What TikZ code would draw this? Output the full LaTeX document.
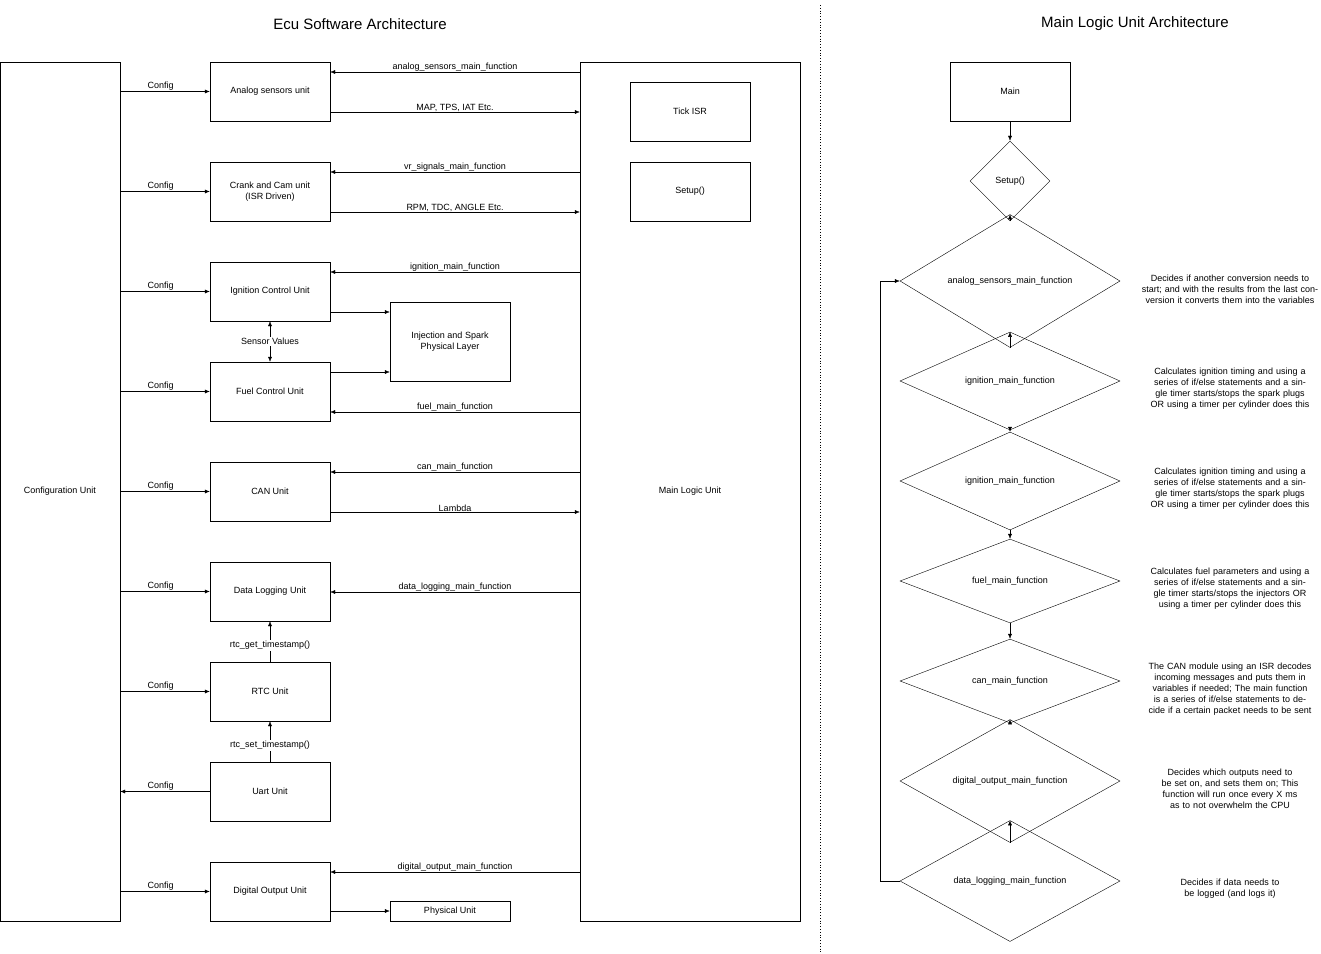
\documentclass[tikz,border=0pt]{standalone}
\usepackage{fontspec}
\setmainfont{Liberation Sans}
\usetikzlibrary{shapes.geometric,arrows.meta,positioning}

\begin{document}
\begin{tikzpicture}[
    x=1pt, y=-1pt,
    unit/.style={
        draw,
        rectangle,
        minimum width = 120pt,
        minimum height = 59pt,
        align = center,
        font = \fontsize{9}{11}\selectfont
    },
    flow/.style={
        draw,
        diamond,
        minimum width = 220pt,
        minimum height = 80pt,
        inner sep = 0pt,
        font = \fontsize{9}{11}\selectfont
    },
    lbl/.style={
        font = \fontsize{9}{11}\selectfont,
        inner sep = 1pt,
        fill = white
    },
    note/.style={
        text width = 180pt,
        align = center,
        font = \fontsize{9}{11}\selectfont
    },
    title/.style={
        font = \fontsize{15}{18}\selectfont
    },
    >={Latex[length=5pt,width=4pt]}
]
\useasboundingbox (0,0) rectangle (1321,953);

% titles and separator
\node[title] (t1) at (360,24) {Ecu Software Architecture};
\node[title] (t2) at (1135,24) {Main Logic Unit Architecture};
\draw[dotted, thick] (820,5) -- (820,953);

% left side blocks
\node[unit, minimum width=120pt, minimum height=859pt] (conf) at (60,491.5) {Configuration Unit};
\node[unit, minimum width=220pt, minimum height=859pt] (mlu) at (690,491.5) {Main Logic Unit};
\node[unit] (tick) at (690,111.5) {Tick ISR};
\node[unit] (setup) at (690,191.5) {Setup()};

\node[unit] (ana) at (270,91.5) {Analog sensors unit};
\node[unit] (crank) at (270,191.5) {Crank and Cam unit\\(ISR Driven)};
\node[unit] (ign) at (270,291.5) {Ignition Control Unit};
\node[unit] (fuel) at (270,391.5) {Fuel Control Unit};
\node[unit] (can) at (270,491.5) {CAN Unit};
\node[unit] (dlog) at (270,591.5) {Data Logging Unit};
\node[unit] (rtc) at (270,691.5) {RTC Unit};
\node[unit] (uart) at (270,791.5) {Uart Unit};
\node[unit] (dout) at (270,891.5) {Digital Output Unit};
\node[unit, minimum height=79pt] (inj) at (450,341.5) {Injection and Spark\\Physical Layer};
\node[unit, minimum height=20pt] (phys) at (450,911) {Physical Unit};

% config connections
\foreach \u in {ana,crank,ign,fuel,can,dlog,rtc,dout}
    \draw[->] (conf.east |- \u) -- node[lbl, above, fill=none, pos=0.45] {Config} (\u.west);
\draw[->] (uart.west) -- node[lbl, above, fill=none, pos=0.55] {Config} (conf.east |- uart);

% main logic unit to units
\foreach \u/\y/\t in {ana/72/analog\_sensors\_main\_function, crank/172/vr\_signals\_main\_function,
    ign/272/ignition\_main\_function, fuel/412/fuel\_main\_function, can/472/can\_main\_function,
    dlog/592/data\_logging\_main\_function, dout/872/digital\_output\_main\_function}
    \draw[->] (mlu.west |- 0,\y) -- node[lbl, above, fill=none, inner sep=0.5pt] {\t} (\u.east |- 0,\y);

% units to main logic unit
\foreach \u/\y/\t in {ana/112/{MAP, TPS, IAT Etc.}, crank/212/{RPM, TDC, ANGLE Etc.}, can/512/Lambda}
    \draw[->] (\u.east |- 0,\y) -- node[lbl, above, fill=none, inner sep=0.5pt] {\t} (mlu.west |- 0,\y);

% physical layers
\draw[->] (ign.east |- 0,312) -- (inj.west |- 0,312);
\draw[->] (fuel.east |- 0,372) -- (inj.west |- 0,372);
\draw[->] (dout.east |- phys) -- (phys.west);

% vertical links
\draw[<->] (ign.south) -- node[lbl] {Sensor Values} (fuel.north);
\draw[->] (rtc.north) -- node[lbl, pos=0.4] {rtc\_get\_timestamp()} (dlog.south);
\draw[->] (uart.north) -- node[lbl, pos=0.4] {rtc\_set\_timestamp()} (rtc.south);

% right side flow
\node[unit] (main) at (1010,91.5) {Main};
\node[flow, minimum width=80pt, minimum height=80pt] (ssetup) at (1010,181) {Setup()};
\node[flow] (s1) at (1010,281) {analog\_sensors\_main\_function};
\node[flow] (s2) at (1010,381) {ignition\_main\_function};
\node[flow] (s3) at (1010,481) {ignition\_main\_function};
\node[flow] (s4) at (1010,581) {fuel\_main\_function};
\node[flow] (s5) at (1010,681) {can\_main\_function};
\node[flow] (s6) at (1010,781) {digital\_output\_main\_function};
\node[flow] (s7) at (1010,881) {data\_logging\_main\_function};

\draw[->] (main) -- (ssetup);
\draw[->] (ssetup) -- (s1);
\foreach \a/\b in {s1/s2,s2/s3,s3/s4,s4/s5,s5/s6,s6/s7}
    \draw[->] (\a) -- (\b);
\draw[->] (s7.west) -- ++(-20,0) |- (s1.west);

% notes
\node[note] (n1) at (1230,289) {Decides if another conversion needs to start; and with the results from the last conversion it converts them into the variables};
\node[note] (n2) at (1230,389) {Calculates ignition timing and using a series of if/else statements and a single timer starts/stops the spark plugs OR using a timer per cylinder does this};
\node[note] (n3) at (1230,489) {Calculates ignition timing and using a series of if/else statements and a single timer starts/stops the spark plugs OR using a timer per cylinder does this};
\node[note] (n4) at (1230,589) {Calculates fuel parameters and using a series of if/else statements and a single timer starts/stops the injectors OR using a timer per cylinder does this};
\node[note] (n5) at (1230,689) {The CAN module using an ISR decodes incoming messages and puts them in variables if needed; The main function is a series of if/else statements to decide if a certain packet needs to be sent};
\node[note] (n6) at (1230,789) {Decides which outputs need to be set on, and sets them on; This function will run once every X ms as to not overwhelm the CPU};
\node[note] (n7) at (1230,889) {Decides if data needs to be logged (and logs it)};

\end{tikzpicture}
\end{document}
